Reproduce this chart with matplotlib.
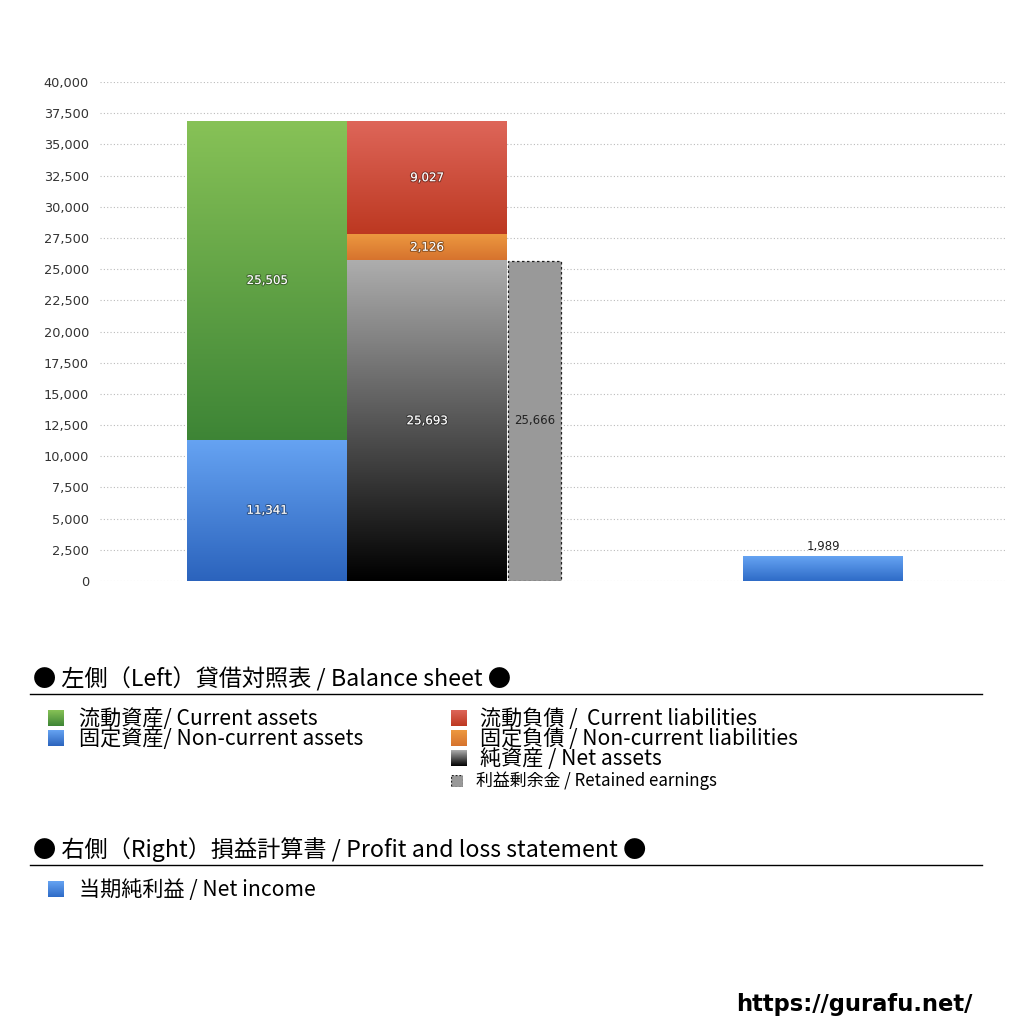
import numpy as np
import matplotlib
matplotlib.use('Agg')
import matplotlib.pyplot as plt
import matplotlib.patheffects as pe
from matplotlib.patches import Rectangle
from matplotlib.lines import Line2D

plt.rcParams['font.family'] = ['Noto Sans CJK JP', 'DejaVu Sans']

# ---------------- data ----------------
current_assets = 25505
noncurrent_assets = 11341
current_liabilities = 9027
noncurrent_liabilities = 2126
net_assets = 25693
retained_earnings = 25666
net_income = 1989
yticks = list(range(0, 40001, 2500))

heading_left = '● 左側（Left）貸借対照表 / Balance sheet ●'
heading_right = '● 右側（Right）損益計算書 / Profit and loss statement ●'
legend_left_col = ['流動資産/ Current assets', '固定資産/ Non-current assets']
legend_right_col = ['流動負債 /  Current liabilities', '固定負債 / Non-current liabilities',
                    '純資産 / Net assets']
legend_re = '利益剰余金 / Retained earnings'
legend_pl = '当期純利益 / Net income'
url_text = 'https://gurafu.net/'

# ---------------- styles ----------------
GREEN = ((0.53, 0.76, 0.34), (0.24, 0.52, 0.21))
BLUE = ((0.40, 0.64, 0.95), (0.17, 0.39, 0.74))
RED = ((0.87, 0.40, 0.35), (0.74, 0.22, 0.13))
ORANGE = ((0.93, 0.60, 0.25), (0.84, 0.45, 0.18))
BLACK = ((0.68, 0.68, 0.68), (0.0, 0.0, 0.0))
NIBLUE = ((0.40, 0.64, 0.95), (0.18, 0.42, 0.78))
RE_GRAY = '#999999'

W = 1024
fig = plt.figure(figsize=(10.24, 10.24), dpi=100)
ax = fig.add_axes([100 / W, 1 - 581 / W, 905 / W, 499 / W])
XMAX = 905 / 160
ax.set_xlim(0, XMAX)
ax.set_ylim(0, 40000)


def grad_img(top, bottom, n=256):
    t = np.linspace(0, 1, n)[:, None]
    c = (1 - t) * np.array(bottom) + t * np.array(top)
    return c[:, None, :]


def grad_fill(patch, colors):
    x, y = patch.get_x(), patch.get_y()
    w, h = patch.get_width(), patch.get_height()
    im = ax.imshow(grad_img(*colors), extent=(x, x + w, y, y + h), origin='lower',
                   aspect='auto', interpolation='bilinear', zorder=patch.get_zorder() + 0.1)
    im.set_clip_path(patch)


shadow = [pe.withStroke(linewidth=1.6, foreground=(0, 0, 0, 0.35))]


def seg_label(patch, value, color='white', effects=shadow):
    x = patch.get_x() + patch.get_width() / 2
    y = patch.get_y() + patch.get_height() / 2
    ax.text(x, y, f'{value:,}', ha='center', va='center', fontsize=8.5, color=color,
            family='DejaVu Sans', path_effects=effects, zorder=5)


# assets column
left_a = 0.544
b_nca = ax.bar(left_a, noncurrent_assets, 1.0, 0, align='edge', color='none', lw=0, zorder=2)[0]
b_ca = ax.bar(left_a, current_assets, 1.0, noncurrent_assets, align='edge', color='none', lw=0, zorder=2)[0]
grad_fill(b_nca, BLUE)
grad_fill(b_ca, GREEN)
seg_label(b_nca, noncurrent_assets)
seg_label(b_ca, current_assets)

# liabilities + net assets column
left_l = left_a + 1.0
b_na = ax.bar(left_l, net_assets, 1.0, 0, align='edge', color='none', lw=0, zorder=2)[0]
b_ncl = ax.bar(left_l, noncurrent_liabilities, 1.0, net_assets, align='edge', color='none', lw=0, zorder=2)[0]
b_cl = ax.bar(left_l, current_liabilities, 1.0, net_assets + noncurrent_liabilities,
              align='edge', color='none', lw=0, zorder=2)[0]
grad_fill(b_na, BLACK)
grad_fill(b_ncl, ORANGE)
grad_fill(b_cl, RED)
seg_label(b_na, net_assets)
seg_label(b_ncl, noncurrent_liabilities)
seg_label(b_cl, current_liabilities)

# retained earnings
left_re = (508 - 100) / 160
b_re = ax.bar(left_re, retained_earnings, 53 / 160, 0, align='edge', color=RE_GRAY,
              edgecolor='#222222', lw=0.9, linestyle=(0, (2, 2)), zorder=3)[0]
seg_label(b_re, retained_earnings, color='#222222', effects=None)

# net income
left_ni = (743 - 100) / 160
b_ni = ax.bar(left_ni, net_income, 1.0, 0, align='edge', color='none', lw=0, zorder=2)[0]
grad_fill(b_ni, NIBLUE)
ax.annotate(f'{net_income:,}', (left_ni + 0.5, net_income), xytext=(0, 2), textcoords='offset points',
            ha='center', va='bottom', fontsize=8.5, color='#222222', family='DejaVu Sans', zorder=5)

ax.set_xlim(0, XMAX)
ax.set_ylim(0, 40000)
ax.set_yticks(yticks)
ax.set_yticklabels([f'{v:,}' for v in yticks], family='DejaVu Sans', fontsize=9.3, color='#333333')
ax.set_xticks([])
ax.tick_params(axis='y', length=0, pad=8)
ax.yaxis.grid(True, linestyle=(0, (1, 2)), color='#bbbbbb', lw=0.8)
ax.set_axisbelow(True)
for s in ax.spines.values():
    s.set_visible(False)


# ---------------- legend area ----------------
def fy(px):
    return 1 - px / W


def legend_square(xpx, ycpx, size, colors=None, solid=None):
    sa = fig.add_axes([xpx / W, fy(ycpx + size / 2), size / W, size / W])
    if colors is not None:
        sa.imshow(grad_img(*colors), origin='lower', aspect='auto', extent=(0, 1, 0, 1))
    else:
        sa.add_patch(Rectangle((0, 0), 1, 1, facecolor=solid, edgecolor='#222222',
                               lw=0.9, linestyle=(0, (1.5, 1.5))))
    sa.set_xlim(0, 1)
    sa.set_ylim(0, 1)
    sa.axis('off')


fig.text(33 / W, fy(679), heading_left, fontsize=16.7, va='center', ha='left', color='black')
fig.add_artist(Line2D([30 / W, 982 / W], [fy(694)] * 2, color='black', lw=1))

for i, (lab, col) in enumerate(zip(legend_left_col, [GREEN, BLUE])):
    yc = 719 + 20 * i
    legend_square(48, yc - 1, 16, col)
    fig.text(79 / W, fy(yc), lab, fontsize=15.2, va='center', ha='left')

for i, (lab, col) in enumerate(zip(legend_right_col, [RED, ORANGE, BLACK])):
    yc = 719 + 20 * i
    legend_square(451, yc - 1, 16, col)
    fig.text(480 / W, fy(yc), lab, fontsize=15.2, va='center', ha='left')

legend_square(451, 781, 12, solid=RE_GRAY)
fig.text(476 / W, fy(781), legend_re, fontsize=12.2, va='center', ha='left')

fig.text(33 / W, fy(850), heading_right, fontsize=16.7, va='center', ha='left', color='black')
fig.add_artist(Line2D([30 / W, 982 / W], [fy(865)] * 2, color='black', lw=1))

legend_square(48, 889, 16, NIBLUE)
fig.text(79 / W, fy(890), legend_pl, fontsize=15.2, va='center', ha='left')

fig.text(972 / W, fy(1004), url_text, fontsize=16.3, fontweight='bold', family='DejaVu Sans',
         va='center', ha='right', color='black')

fig.savefig('out.png', dpi=100)
